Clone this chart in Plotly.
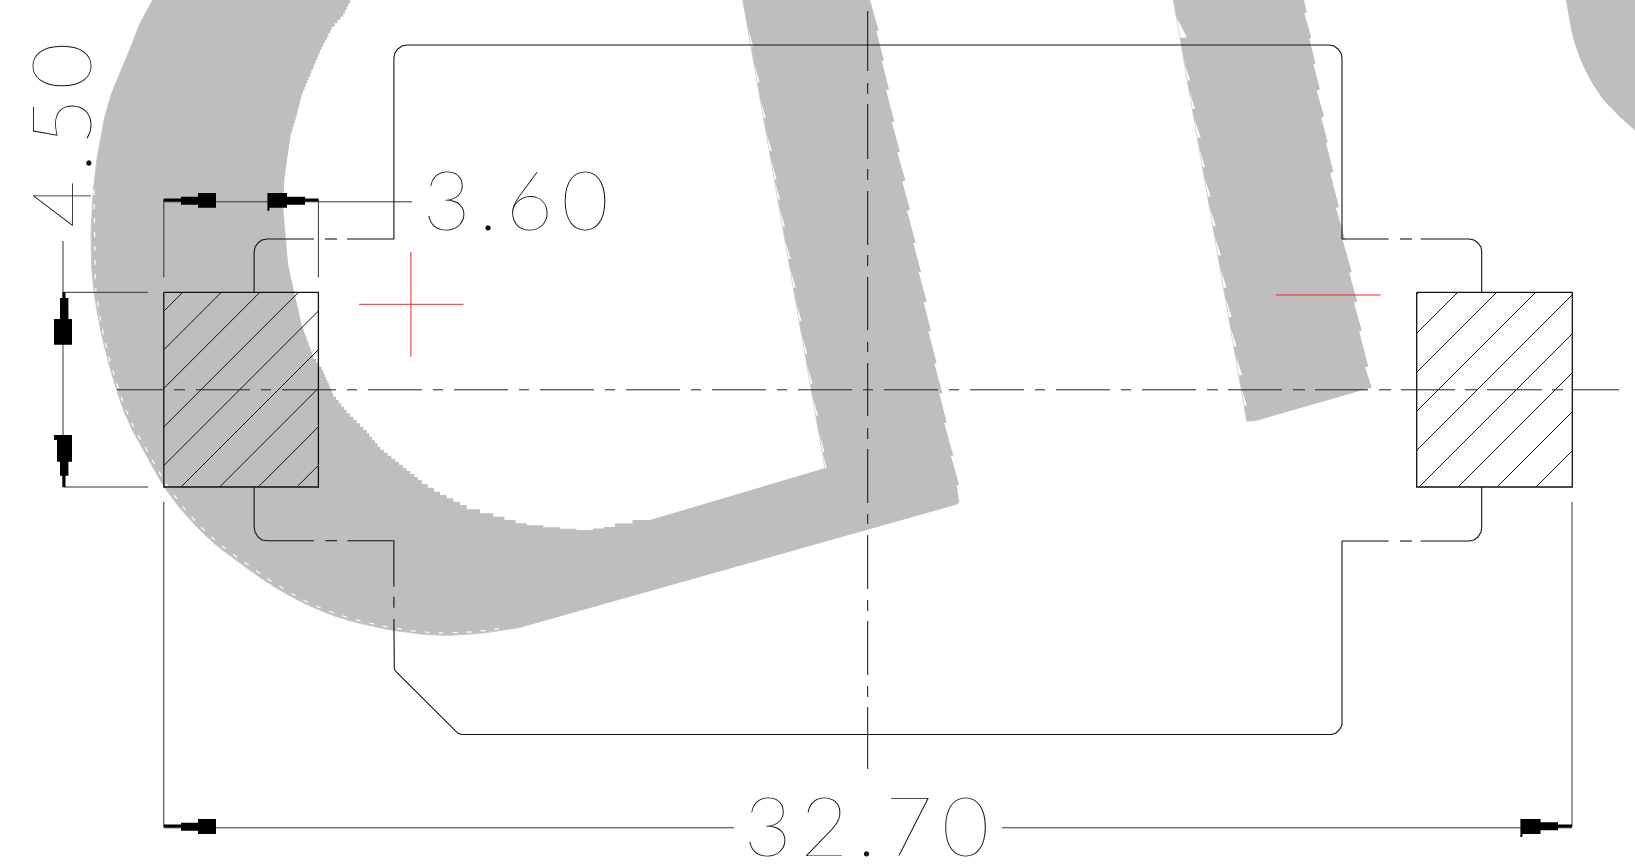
import plotly.graph_objects as go

W, H = 1635, 864
GRAY = "#bebebe"

# --- gray ring / band silhouettes (page pixel units)
outer_arc_x = [152.7, 145, 140, 135, 130, 121.7, 113.3, 106.7, 102.7, 98.3, 95, 92.7, 91, 91, 92.7, 96.7, 103.3, 113.3, 126.7, 143.3, 163.3, 186.7, 213.3, 240, 273.3, 306.7, 340, 373.3, 406.7, 440, 473.3, 506.7, 523.3]
outer_arc_y = [0, 13.3, 23.3, 35, 50, 68.3, 88.3, 108.3, 126.7, 150, 173.3, 196.7, 226.7, 253.3, 283.3, 310, 343.3, 380, 420, 450, 486.7, 516.7, 543.3, 563.3, 586.7, 605, 618.3, 626.7, 632.7, 635.7, 634.3, 630, 626.7]
band_end_x = [956.7, 959.3]
band_end_y = [504.6, 501.8]
right_edge_x = [956.7, 959, 951, 953.3, 944.3, 946.7, 939.3, 942.3, 934.3, 936.7, 928.3, 931, 923.7, 926.7, 918.7, 921, 913.3, 915.7, 907, 910, 902.3, 905.3, 897.3, 900, 891.7, 894.3, 886, 889, 881.7, 884, 876.3, 878.7, 870]
right_edge_y = [485.4, 484.6, 456, 455.4, 423.2, 422.5, 393.6, 392.9, 363.2, 363.2, 331, 331, 302.5, 301.8, 272.1, 272.1, 242.9, 242.9, 210.7, 210, 181.4, 180.4, 152.5, 151.8, 122, 121.4, 90, 89.3, 60.7, 60.7, 31, 30.4, 0]
left_tip_x = [753.3, 759.6, 765.9, 771.7, 776.7, 780, 785, 790.7, 795.7, 801.5, 807.3, 812.6, 818.1, 824.5, 826.7]
left_tip_y = [46.4, 82.1, 117.9, 150.7, 179.3, 199.3, 226.8, 258.9, 287.5, 320.7, 353.6, 383.9, 415.4, 451.8, 467.9]
inner_arc_x = [650, 615, 592.9, 560, 526.7, 493.3, 466.7, 440, 421.7, 380, 366.7, 346.7, 333.3, 321.7, 313.3, 301.7, 293.3, 288.3, 286, 283.3, 284, 287.3, 290.7, 296.7, 301.7, 310, 320, 331.7, 343.3, 350]
inner_arc_y = [520, 527, 530, 527.3, 523.3, 513.3, 505, 491.7, 480, 446.7, 430, 410, 393.3, 366.7, 355, 323.3, 286.7, 263.3, 240, 206.7, 180, 156.7, 133.3, 113.3, 93.3, 73.3, 50, 26.7, 13.3, 0]

band2_right_x = [1304, 1306.7, 1304.3, 1311.3, 1309.3, 1315.7, 1313.3, 1320, 1316.7, 1324, 1321.3, 1327.7, 1326, 1333.3, 1330.3, 1339, 1336, 1345, 1342.7, 1351.7, 1349.3, 1357.3, 1354, 1361.7, 1359.3, 1368.3, 1365, 1371.7]
band2_right_y = [0, 12.5, 13.2, 37.5, 38.6, 64.3, 64.3, 89.3, 90.7, 116, 117.9, 142.1, 142.9, 171.4, 172.9, 207.1, 207.9, 239.3, 240, 272.1, 272.9, 301.8, 302.5, 330.4, 331.4, 366.8, 367.1, 387.5]
band2_foot_x = [1256.7, 1246.7]
band2_foot_y = [420.7, 421.4]
band2_tip_x = [1187, 1190, 1195, 1200.7, 1205, 1210.7, 1215.7, 1221, 1226.7, 1231.7, 1236.7, 1242.3, 1246.7]
band2_tip_y = [37.5, 80.4, 108.9, 137.5, 167.1, 196.4, 226.1, 255.4, 287.5, 317.1, 346.4, 375, 405.4]

corner_x = [1566, 1571.7, 1583.3, 1600, 1616.7, 1635, 1635]
corner_y = [0, 35.7, 67.9, 96.4, 114.3, 130.4, 0]

fleck_x = [94, 94.5, 98.5, 105, 115, 129, 146, 166, 189, 215, 242, 275, 308, 341, 374, 407, 440, 473, 506]
fleck_y = [190, 282, 310, 343, 379, 419, 449, 485, 515, 541, 561, 584, 603, 616, 624.5, 630.5, 633.5, 632, 628]

# --- part outline, rounded corners included
outline_x = [254.1, 254.1, 255.1, 258, 262, 267, 314, None, 325.5, 337, None, 347.4, 393.9, 393.9, None, 393.9, 393.9, None, 393.9, 393.9, 394.3, 397, 458, 460, 462, 1331.6, 1336, 1340, 1342, 1342, 1342, 1388.7, None, 1400, 1412, None, 1420.7, 1469, 1474, 1478, 1481, 1481.7, 1481.7]
outline_y = [487, 527, 532, 537, 540, 540.7, 540.7, None, 540.7, 540.7, None, 540.7, 540.7, 586.7, None, 596.7, 607.7, None, 619, 665, 669, 672.7, 733.3, 734, 734.5, 734.5, 733, 729, 725, 721.7, 541, 541, None, 541, 541, None, 541, 541, 540, 537, 532, 528, 487]
outline_top_x = [254.1, 254.1, 255.1, 258, 262, 267, 314, None, 325, 337, None, 347, 393.9, 393.9, 394.9, 397.8, 402, 407, 1329, 1334, 1338, 1341, 1342, 1342, 1388.7, None, 1400, 1412, None, 1420.7, 1469, 1474, 1478, 1481, 1481.7, 1481.7]
outline_top_y = [292.3, 252, 247, 243, 240, 239, 239, None, 239, 239, None, 239, 239, 58, 53, 49, 46, 45, 45, 46, 49, 53, 58, 239, 239, None, 239, 239, None, 239, 239, 240, 243, 247, 252, 292.3]

# --- hatched sections
sec_left = [163.8, 318.4]
sec_right = [1416.7, 1572.3]
sec_y = [292.3, 487]
hatch_left = [475, 513.6, 552.2, 590.8, 629.4, 668, 706.6, 745.2, 783.8]
hatch_right = [1711, 1750, 1789, 1828, 1867, 1906, 1945, 1984, 2023]

# --- centre lines
center_h_start = [117, 174, 196, 261, 282, 347, 368, 433, 454, 519, 540, 605, 626, 691, 712, 777, 798, 863, 884, 949, 970, 1035, 1056, 1121, 1142, 1207, 1228, 1293, 1315, 1379, 1401, 1465, 1487, 1552, 1572]
center_h_end = [164, 185, 250, 271, 336, 357, 422, 443, 508, 529, 594, 615, 680, 701, 766, 787, 852, 873, 938, 959, 1024, 1045, 1110, 1131, 1196, 1218, 1282, 1305, 1368, 1391, 1455, 1477, 1542, 1563, 1619]
center_v_start = [11, 83, 104, 169, 191, 255, 277, 342, 363, 428, 449, 514, 535, 600, 621, 686, 707]
center_v_end = [71, 94, 159, 180, 245, 266, 330, 352, 416, 439, 503, 524, 589, 611, 675, 697, 769]

# --- dimension lines
dim_x = [163.8, 163.8, None, 163.8, 412, None, 318.4, 318.4, None, 63, 63, None, 63, 148, None, 63, 148, None, 163.8, 163.8, None, 163.8, 734, None, 1002, 1572, None, 1572, 1572]
dim_y = [277.3, 199.3, None, 201.8, 201.8, None, 199.3, 277.3, None, 241, 487, None, 292.3, 292.3, None, 487, 487, None, 501.7, 826.7, None, 827.8, 827.8, None, 827.8, 827.8, None, 501.8, 826.7]

arrow_x = [163.8, 181, 181, 163.8, 163.8, None, 181, 198, 198, 181, 181, None, 198, 216, 216, 198, 198, None,
           267.4, 287, 287, 269.4, 269.4, 267.4, 267.4, None, 287, 305, 305, 287, 287, None, 305, 318.4, 318.4, 305, 305, None,
           62.5, 65.5, 65.5, 62.5, 62.5, None, 60, 68.4, 68.4, 60, 60, None, 54, 72, 72, 54, 54, None,
           54, 72, 72, 57, 57, 54, 54, None, 60, 68.4, 68.4, 60, 60, None, 62.5, 65.5, 65.5, 62.5, 62.5, None,
           163.8, 181, 181, 163.8, 163.8, None, 181, 198, 198, 181, 181, None, 198, 216, 216, 198, 198, None,
           1520.4, 1540.5, 1540.5, 1522.4, 1522.4, 1520.4, 1520.4, None, 1540.5, 1558, 1558, 1540.5, 1540.5, None, 1558, 1572, 1572, 1558, 1558]
arrow_y = [198.5, 198.5, 201.5, 201.5, 198.5, None, 196.7, 196.7, 204.7, 204.7, 196.7, None, 193, 193, 207.7, 207.7, 193, None,
           193, 193, 207.7, 207.7, 210.7, 210.7, 193, None, 196.7, 196.7, 204.7, 204.7, 196.7, None, 198.5, 198.5, 201.5, 201.5, 198.5, None,
           292.3, 292.3, 298, 298, 292.3, None, 298, 298, 319, 319, 298, None, 319, 319, 344.7, 344.7, 319, None,
           435, 435, 461.7, 461.7, 440, 440, 435, None, 461.7, 461.7, 475.7, 475.7, 461.7, None, 475.7, 475.7, 487, 487, 475.7, None,
           824.5, 824.5, 827.5, 827.5, 824.5, None, 822.7, 822.7, 830.7, 830.7, 822.7, None, 819, 819, 834, 834, 819, None,
           819, 819, 834, 834, 837, 837, 819, None, 822.3, 822.3, 830.3, 830.3, 822.3, None, 824.5, 824.5, 827.5, 827.5, 824.5]

# --- red marks
red_x = [359, 463.5, None, 410.9, 410.9, None, 1275.7, 1380.7]
red_y = [304.3, 304.3, None, 252, 356.7, None, 295, 295]

labels = ["3.60", "4.50", "32.70"]


def teeth(tx, ty, x0, y0, x1, y1, rise=21):
    xs, ys = [], []
    line = lambda y: x0 + (x1 - x0) * (y - y0) / (y1 - y0)
    for a, b in zip(tx, ty):
        xs += [line(b - rise), a, line(b) + 0.2]
        ys += [b - rise, b, b + 0.2]
    return xs, ys


def round_off(xs, ys, passes=2):
    """Corner-cut a hand-read outline so it does not look faceted; end points stay."""
    for _ in range(passes):
        ox, oy = [xs[0]], [ys[0]]
        for i in range(len(xs) - 1):
            ox += [0.75 * xs[i] + 0.25 * xs[i + 1], 0.25 * xs[i] + 0.75 * xs[i + 1]]
            oy += [0.75 * ys[i] + 0.25 * ys[i + 1], 0.25 * ys[i] + 0.75 * ys[i + 1]]
        ox.append(xs[-1])
        oy.append(ys[-1])
        xs, ys = ox, oy
    return xs, ys


def stairs(xs, ys):
    ox, oy = [xs[0]], [ys[0]]
    for i in range(1, len(xs)):
        n = max(2, int(abs(ys[i] - ys[i - 1]) / 3))
        for k in range(1, n + 1):
            xb = xs[i - 1] + (xs[i] - xs[i - 1]) * k / n
            yb = ys[i - 1] + (ys[i] - ys[i - 1]) * k / n
            ox += [xb]
            oy += [oy[-1]]
            ox += [xb]
            oy += [yb]
    return ox, oy


def segs(a, b, fixed, vertical=False):
    p, q = [], []
    for s, e in zip(a, b):
        p += [s, e, None]
        q += [fixed, fixed, None]
    return (q, p) if vertical else (p, q)


def hatch(cs, xr, yr):
    xs, ys = [], []
    for c in cs:
        x0 = max(xr[0], c - yr[1])
        x1 = min(xr[1], c - yr[0])
        xs += [x0, x1, None]
        ys += [c - x0, c - x1, None]
    return xs, ys


fig = go.Figure()


def poly(x, y, color=GRAY):
    fig.add_trace(go.Scatter(x=x, y=y, mode="lines", fill="toself", fillcolor=color,
                             line=dict(color=color, width=0), hoverinfo="skip", showlegend=False))


def line(x, y, color="black", width=1.0, dash=None):
    fig.add_trace(go.Scatter(x=x, y=y, mode="lines", line=dict(color=color, width=width, dash=dash),
                             hoverinfo="skip", showlegend=False, connectgaps=False))


tx, ty = teeth(left_tip_x, left_tip_y, 742.7, 0, 825, 468.6)
ax, ay = stairs(inner_arc_x, inner_arc_y)
oxs, oys = round_off(outer_arc_x, outer_arc_y)
poly(oxs + band_end_x + right_edge_x + [742.7] + tx + ax,
     oys + band_end_y + right_edge_y + [0] + ty + ay)
tx2, ty2 = teeth(band2_tip_x, band2_tip_y, 1173.3, 0, 1246.7, 421.4)
poly(band2_right_x + band2_foot_x + tx2[::-1] + [1173.3],
     band2_right_y + band2_foot_y + ty2[::-1] + [0])
cxs, cys = round_off(corner_x[:6], corner_y[:6])
poly(cxs + corner_x[6:], cys + corner_y[6:])
line(oxs, oys, "#c8c8c8", 1)
line([742.7, 825], [0, 468.6], "#c8c8c8", 0.8)
line([1173.3, 1246.7], [0, 421.4], "#c8c8c8", 0.8)
fxs, fys = round_off(fleck_x, fleck_y)
line(fxs, fys, "white", 1.2, "5px,9px")

line(dim_x, dim_y, "#333333", 1)
poly(arrow_x, arrow_y, "black")
line(outline_x, outline_y, "#111111", 1.1)
line(outline_top_x, outline_top_y, "#111111", 1.1)
hx, hy = hatch(hatch_left, sec_left, sec_y)
line(hx, hy, "#111111", 1)
hx, hy = hatch(hatch_right, sec_right, sec_y)
line(hx, hy, "#111111", 1)
for r in (sec_left, sec_right):
    line([r[0], r[1], r[1], r[0], r[0]], [sec_y[0], sec_y[0], sec_y[1], sec_y[1], sec_y[0]], "#111111", 1.3)
cx, cy = segs(center_h_start, center_h_end, 389.8)
line(cx, cy, "#222222", 1)
cx, cy = segs(center_v_start, center_v_end, 867.7, True)
line(cx, cy, "#111111", 1)
line(red_x, red_y, "#ff2020", 1)

FONT = dict(family="Lato", size=82, color="#111111", weight=100)


def label(text, x, y, angle=0, spacing=8):
    fig.add_annotation(x=x, y=y, text=f'<span style="letter-spacing:{spacing}px">{text}</span>', showarrow=False,
                       font=FONT, textangle=angle, xanchor="center", yanchor="middle", xref="x", yref="y")


label(labels[0], 519.5, 198, 0, 8)
label(labels[1], 59, 131, -90, 8)
label(labels[2], 870.5, 823.6, 0, 9)

fig.update_layout(width=W, height=H, margin=dict(l=0, r=0, t=0, b=0), plot_bgcolor="white", paper_bgcolor="white",
                  showlegend=False,
                  xaxis=dict(range=[0, W], visible=False, fixedrange=True),
                  yaxis=dict(range=[H, 0], visible=False, fixedrange=True))
fig.write_html("out.html", post_script="document.body.style.margin='0';document.body.style.overflow='hidden';",
               config=dict(displayModeBar=False))
